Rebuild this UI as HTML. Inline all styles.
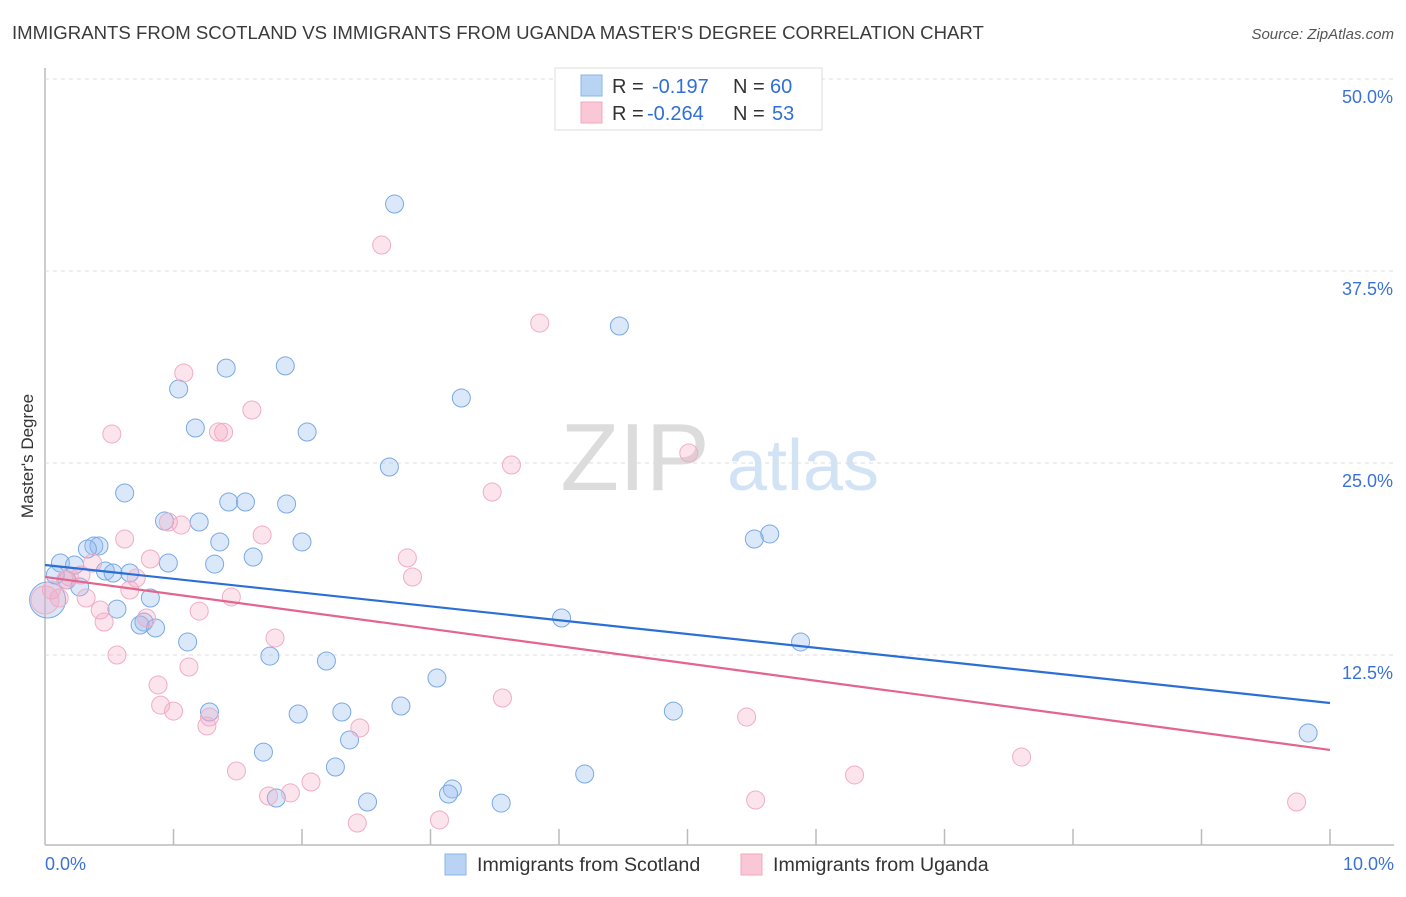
<!DOCTYPE html>
<html><head><meta charset="utf-8">
<style>
body{margin:0;background:#fff;font-family:"Liberation Sans",sans-serif;}
svg text{font-family:"Liberation Sans",sans-serif;}
</style></head>
<body>
<svg id="chart" width="1406" height="892" xmlns="http://www.w3.org/2000/svg">
<text x="12" y="39" font-size="18.6" fill="#3b3b3b">IMMIGRANTS FROM SCOTLAND VS IMMIGRANTS FROM UGANDA MASTER'S DEGREE CORRELATION CHART</text>
<text x="1394" y="39" font-size="15" fill="#555" text-anchor="end" font-style="italic">Source: ZipAtlas.com</text>
<text transform="translate(33,456) rotate(-90)" font-size="17" fill="#333" text-anchor="middle">Master's Degree</text>
<g>
<text x="635" y="490" font-size="96" fill="#dcdcdc" text-anchor="middle" font-family="Liberation Serif">ZIP</text>
<text x="803" y="490" font-size="72" fill="#d3e3f6" text-anchor="middle">atlas</text>
</g>
<g id="grid"></g>
<g id="marks"></g>
<g>
<rect x="555" y="68" width="267" height="62" fill="#fff" stroke="#ddd"/>
<rect x="581" y="75" width="21" height="21" fill="#b9d3f5" stroke="#8ab4ea"/>
<rect x="581" y="102" width="21" height="21" fill="#fac7d6" stroke="#f0a8c0"/>
<text x="612" y="93" font-size="20" fill="#333">R = </text><text x="652" y="93" font-size="20" fill="#2f6fd6">-0.197</text>
<text x="733" y="93" font-size="20" fill="#333">N = </text><text x="770" y="93" font-size="20" fill="#2f6fd6">60</text>
<text x="612" y="120" font-size="20" fill="#333">R = </text><text x="647" y="120" font-size="20" fill="#2f6fd6">-0.264</text>
<text x="733" y="120" font-size="20" fill="#333">N = </text><text x="772" y="120" font-size="20" fill="#2f6fd6">53</text>
</g>
<g>
<rect x="445" y="854" width="21" height="21" fill="#b9d3f5" stroke="#8ab4ea"/>
<text x="477" y="871" font-size="19.6" fill="#333">Immigrants from Scotland</text>
<rect x="741" y="854" width="21" height="21" fill="#fac7d6" stroke="#f0a8c0"/>
<text x="773" y="871" font-size="19.6" fill="#333">Immigrants from Uganda</text>
</g>
</svg>
<script>
const xTicks=[0,1,2,3,4,5,6,7,8,9,10];
const yTicks=[12.5,25,37.5,50];
const yTickLabels=["12.5%","25.0%","37.5%","50.0%"];
const xTickLabels=["0.0%","10.0%"];
const scotX=[2.72,4.47,1.87,1.41,1.04,3.24,1.17,2.04,2.68,0.62,1.43,1.56,1.88,0.93,1.20,5.64,5.52,2.00,1.36,0.38,0.42,0.33,1.62,0.12,0.23,0.96,1.32,0.47,0.53,0.66,0.17,0.27,0.82,0.56,4.02,0.77,0.74,0.86,1.11,5.88,1.75,2.19,3.05,1.28,2.77,2.31,1.97,4.89,2.37,1.70,2.26,4.20,3.17,3.14,1.80,2.51,3.55,9.83,0.02,0.08];
const scotY=[41.86,33.92,31.32,31.18,29.82,29.23,27.28,27.02,24.74,23.05,22.46,22.46,22.33,21.22,21.16,20.38,20.05,19.86,19.86,19.60,19.60,19.40,18.88,18.49,18.36,18.49,18.42,17.97,17.84,17.84,17.38,16.93,16.21,15.49,14.91,14.65,14.45,14.26,13.35,13.35,12.43,12.11,11.00,8.79,9.18,8.79,8.66,8.85,6.97,6.18,5.21,4.75,3.78,3.45,3.19,2.93,2.86,7.42,16.08,17.71];
const ugX=[2.62,3.85,1.08,1.61,0.52,1.35,1.39,5.01,3.63,3.48,0.96,1.06,1.69,0.62,0.82,2.82,0.37,2.86,0.28,0.71,0.19,0.66,0.11,1.45,0.32,0.43,1.20,0.46,0.79,1.79,0.56,1.12,0.88,3.56,0.90,1.00,5.46,1.28,1.26,2.45,7.60,1.49,6.30,2.07,1.91,1.74,5.53,9.74,3.07,2.43,0.05,0.00,0.16];
const ugY=[39.19,34.11,30.86,28.45,26.89,27.02,27.0,25.65,24.87,23.11,21.16,20.96,20.31,20.05,18.75,18.82,18.49,17.58,17.71,17.51,17.58,16.73,16.21,16.28,16.21,15.43,15.36,14.65,14.91,13.61,12.50,11.72,10.55,9.70,9.24,8.85,8.46,8.46,7.88,7.75,5.86,4.95,4.69,4.23,3.52,3.32,3.06,2.93,1.76,1.56,16.73,16.08,17.38];
const scotTrend=[18.36,9.375];
const ugTrend=[17.58,6.32];

const NS="http://www.w3.org/2000/svg";
const X=v=>45+v*128.5;
const Y=v=>847-v*15.36;
function mk(tag,attrs,parent){const e=document.createElementNS(NS,tag);for(const k in attrs)e.setAttribute(k,attrs[k]);parent.appendChild(e);return e;}
const grid=document.getElementById('grid'),marks=document.getElementById('marks');
let ax=mk('line',{x1:45,y1:68,x2:45,y2:845,stroke:'#bbb','stroke-width':1.5},grid);


let bx=mk('line',{x1:45,y1:845,x2:1394,y2:845,stroke:'#bbb','stroke-width':1.5},grid);


yTicks.forEach((t,i)=>{
  const g=mk('line',{x1:45,y1:Y(t),x2:1394,y2:Y(t),stroke:'#ddd','stroke-dasharray':'4,4'},grid);
  
  
  const tx=mk('text',{x:1393,y:Y(t)+24,'font-size':18,fill:'#3a72d8','text-anchor':'end'},grid);
  tx.textContent=yTickLabels[i];
  
  
});
xTicks.forEach(t=>{
  if(t===0)return;
  const l=mk('line',{x1:X(t),y1:829,x2:X(t),y2:845,stroke:'#bbb','stroke-width':1.5},grid);
  
  
});
[[0,xTickLabels[0],'start',45],[10,xTickLabels[1],'end',1394]].forEach(([v,s,a,px])=>{
  const tx=mk('text',{x:px,y:870,'font-size':18,fill:'#3a72d8','text-anchor':a},grid);
  tx.textContent=s;
  
  
});
scotX.forEach((x,i)=>{
  const r=i===58?18:9;
  const c=mk('circle',{cx:X(x),cy:Y(scotY[i]),r:r,fill:'rgba(150,190,240,0.35)',stroke:'#7aa9e4','stroke-width':1},marks);
  
  
});
ugX.forEach((x,i)=>{
  const r=i===51?14:9;
  const c=mk('circle',{cx:X(x),cy:Y(ugY[i]),r:r,fill:'rgba(245,165,195,0.3)',stroke:'#f0adc3','stroke-width':1},marks);
  
  
});
const l1=mk('line',{x1:X(0),y1:Y(scotTrend[0]),x2:X(10),y2:Y(scotTrend[1]),stroke:'#2b6fd6','stroke-width':2.2},marks);


const l2=mk('line',{x1:X(0),y1:Y(ugTrend[0]),x2:X(10),y2:Y(ugTrend[1]),stroke:'#e2648f','stroke-width':2.2},marks);


</script>
</body></html>
